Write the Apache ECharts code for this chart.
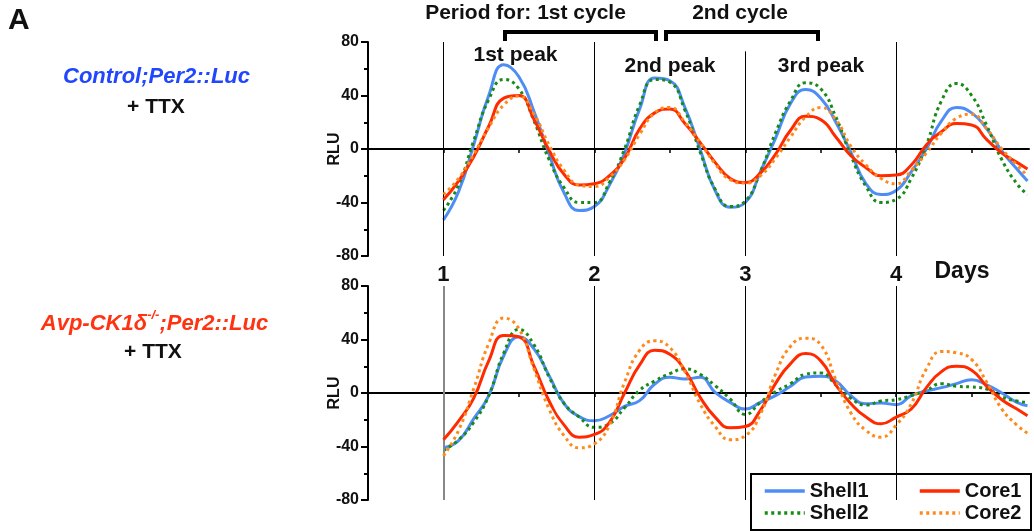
<!DOCTYPE html>
<html><head><meta charset="utf-8">
<script src="https://cdn.jsdelivr.net/npm/echarts@6/dist/echarts.min.js"></script>
<style>html,body{margin:0;padding:0;background:#fff}#c{width:1034px;height:531px}</style>
</head><body><div id="c"></div>
<script>
// Days (x positions of samples)
const days = [1.0,1.1,1.2,1.3,1.4,1.5,1.6,1.7,1.8,1.9,2.0,2.1,2.2,2.3,2.4,2.5,2.6,2.7,2.8,2.9,3.0,3.1,3.2,3.3,3.4,3.5,3.6,3.7,3.8,3.9,4.0,4.1,4.2,4.3,4.4,4.5,4.6,4.7,4.8,4.87];
const dayLabels = [1,2,3,4];
const yTicks = [-80,-40,0,40,80];
const seriesNames = ['Shell1','Shell2','Core1','Core2'];

// Control;Per2::Luc + TTX
const ctrlShell1 = [-53,-32,3,40,63,54,28,-4,-33,-46, -43,-27,-3,30,53,51,31,0,-31,-43.5, -40,-17,8,34,44.5,38,20,-2.5,-26,-34, -31,-17,0,21,31,27,15,-1.5,-15,-24];
const ctrlShell2 = [-46,-27,6,37,52,45,21,-8,-29,-40, -40,-25,0,33,52,50,29,-2,-30,-43, -39,-17,12,36,49.5,45,24,-5,-28,-40, -37.6,-22,3,36,49,40,17.5,-8,-26,-34];
const ctrlCore1  = [-38,-24,-6,17,38,40,22,-1,-19,-27, -26,-20,-7,15,27,30,19,5,-10,-22, -25,-18,-4,14,24.5,22,9,-5,-14,-20, -19.5,-12,3,13,19,18,7,-3,-10,-15];
const ctrlCore2  = [-34,-22,-4,16,33,39.6,26,3,-16,-27, -28,-21,-8,11,27,31,20,5,-11,-23, -25.5,-20,-7,9,24,31,22,2,-12,-22, -26,-16,-3,12,23,26,15,0,-12,-20];

// Avp-CK1δ-/-;Per2::Luc + TTX
const ckShell1 = [-41,-35.6,-19.4,-2,28,42,33,13,-8,-17.7, -20.7,-17,-10,-5.7,6.7,11.7,10.5,11.7,0.5,-7, -12,-7,-2,5,12,12.5,9,-2,-8,-7.5, -8.7,-2,1.5,4,7,10,6,0,-7,-9.5];
const ckShell2 = [-43,-35,-22,-2,30,47.5,36,12,-8,-18, -25.7,-23,-11,2,9,14.5,18,14,5.5,-4.5, -16,-7,1,7,14,15,6,-4,-9,-6, -5,-2,2,7,5,4.5,3,-3,-6,-7];
const ckCore1  = [-35,-21,-4,24,43,42,20,-6,-24,-33, -31,-22,0,21,32,29,17,-3,-18,-26, -25,-13,7,22,29.5,24,6,-8,-18,-23, -18,-12,4,16,20,17,5,-5,-12,-17];
const ckCore2  = [-47,-28,3,37,56,48,18,-12,-32,-41, -38,-24,8,32,39,34,16,-8,-25,-35, -32,-16,14,35,41,36,10,-15,-28,-33, -24,-8,18,31,30,25,8,-12,-24,-30];

const colors = {Shell1:'#4d8df5', Shell2:'#178a17', Core1:'#ff2a00', Core2:'#ff8a1c'};
const types = {Shell1:'solid', Shell2:[3,3.5], Core1:'solid', Core2:[3,3.5]};
const FONT = "'Liberation Sans', Arial, sans-serif";

const chart = echarts.init(document.getElementById('c'), null, {renderer:'canvas'});
const pairs = v => days.map((d,i)=>[d, v[i]]);

function vLines(top3, firstColor, firstWidth){
  return dayLabels.map(d => {
    const ls = (d===1 && firstColor) ? {color:firstColor, width:firstWidth, type:'solid'} : {color:'#000', width:1, type:'solid'};
    return [{coord:[d, (d===3 && top3!==undefined)? top3 : 80], lineStyle: ls}, {coord:[d,-80]}];
  });
}

function mkSeries(gridIdx, xIdx, vals){
  return seriesNames.map((n,k) => {
    const s = {
      name:n, type:'line', xAxisIndex:xIdx, yAxisIndex:gridIdx,
      data:pairs(vals[k]), symbol:'none', showSymbol:false, smooth:0.5,
      lineStyle:{color:colors[n], width:3, type:types[n], cap:'butt'},
      itemStyle:{color:colors[n]}, z:3+k
    };
    if(k===0){
      s.markLine = {silent:true, symbol:['none','none'], label:{show:false}, animation:false,
        lineStyle:{color:'#000', width:1, type:'solid'},
        data: gridIdx===0 ? vLines(73) : vLines(undefined,'#888',2)};
    }
    return s;
  });
}

const yAxisBase = gi => ({
  gridIndex:gi, type:'value', min:-80, max:80, interval:40,
  axisLine:{show:true, onZero:false, lineStyle:{color:'#000', width:2}},
  axisTick:{show:true, length:7, lineStyle:{color:'#000', width:2}},
  minorTick:{show:true, splitNumber:2, length:4, lineStyle:{color:'#000', width:2}},
  splitLine:{show:false}, minorSplitLine:{show:false},
  axisLabel:{fontSize:16, fontWeight:'bold', color:'#111', fontFamily:FONT, margin:9},
  name:'RLU', nameLocation:'middle', nameGap:25, nameMoveOverlap:false,
  nameTextStyle:{fontSize:16, fontWeight:'bold', color:'#111', fontFamily:FONT}
});
const xAxisZero = gi => ({
  gridIndex:gi, type:'value', min:0.5, max:4.88, interval:0.5,
  axisLine:{show:true, onZero:true, lineStyle:{color:'#000', width:2}},
  axisTick:{show:true, length:4, customValues:[0.5,1,1.5,2,2.5,3,3.5,4,4.5], lineStyle:{color:'#000', width:1.5}},
  axisLabel:{show:false}, splitLine:{show:false}
});

function txt(text, x, y, size, opts){
  opts = opts || {};
  return {type:'text', x:x, y:y, silent:true, style:Object.assign({
    text:text, fill:opts.fill||'#111', font:(opts.italic?'italic ':'')+'bold '+size+'px '+FONT,
    align:opts.align||'center', verticalAlign:'middle',
    textAlign:opts.align||'center', textVerticalAlign:'middle'
  }, opts.extra||{})};
}
function bracket(x1, x2){
  return {type:'polyline', silent:true, shape:{points:[[x1,41],[x1,32],[x2,32],[x2,41]]},
    style:{stroke:'#000', lineWidth:4, fill:null, lineJoin:'miter'}};
}
function legendAt(name, left, top){
  return {data:[name], left:left, top:top, padding:0, itemWidth:40, itemHeight:14, itemGap:10,
    selectedMode:false,
    itemStyle:{opacity:0, borderWidth:0, color:'rgba(0,0,0,0)'},
    lineStyle:{width:3.5},
    textStyle:{fontSize:20, fontWeight:'bold', color:'#111', fontFamily:FONT, lineHeight:22}};
}

const option = {
  animation:false,
  backgroundColor:'#fff',
  grid:[{left:368, top:42, width:661, height:214}, {left:368, top:286, width:661, height:214}],
  xAxis:[
    xAxisZero(0),
    {gridIndex:0, type:'value', min:0.5, max:4.88, position:'bottom',
     axisLine:{show:false, onZero:false}, axisTick:{show:false}, splitLine:{show:false},
     axisLabel:{show:true, customValues:dayLabels, fontSize:22, fontWeight:'bold', color:'#111', fontFamily:FONT, margin:8}},
    xAxisZero(1)
  ],
  yAxis:[yAxisBase(0), yAxisBase(1)],
  legend:[
    legendAt('Shell1', 763, 480),
    legendAt('Core1', 918, 480),
    legendAt('Shell2', 763, 502),
    legendAt('Core2', 918, 502)
  ],
  series:[].concat(
    mkSeries(0, 0, [ctrlShell1, ctrlShell2, ctrlCore1, ctrlCore2]),
    mkSeries(1, 2, [ckShell1, ckShell2, ckCore1, ckCore2])
  ),
  graphic:[
    txt('A', 8, 21, 30, {align:'left'}),
    txt('Control;Per2::Luc', 156.5, 77, 22, {italic:true, fill:'#2146ff'}),
    txt('+ TTX', 156, 107.5, 21),
    {type:'text', x:154.5, y:322, silent:true, style:{
      text:'{a|Avp-CK1δ}{s|-/-}{a|;Per2::Luc}', align:'center', verticalAlign:'middle',
      textAlign:'center', textVerticalAlign:'middle', fill:'#ff3311',
      rich:{
        a:{fontSize:22, fontWeight:'bold', fontStyle:'italic', fontFamily:FONT, fill:'#ff3311', color:'#ff3311', lineHeight:26, verticalAlign:'bottom'},
        s:{fontSize:13, fontWeight:'bold', fontStyle:'italic', fontFamily:FONT, fill:'#ff3311', color:'#ff3311', lineHeight:26, verticalAlign:'top'}
      }}},
    txt('+ TTX', 153, 352.5, 21),
    txt('Period for: 1st cycle', 525.5, 13, 21),
    txt('2nd cycle', 740, 13, 21),
    bracket(505, 656),
    bracket(666, 818),
    txt('1st peak', 515.5, 55, 21),
    txt('2nd peak', 670, 66, 21),
    txt('3rd peak', 821, 66, 21),
    txt('Days', 962, 272, 23),
    {type:'rect', silent:true, shape:{x:751, y:474, width:280, height:56},
     style:{stroke:'#000', lineWidth:2, fill:null}}
  ]
};
chart.setOption(option);
</script>
</body></html>
